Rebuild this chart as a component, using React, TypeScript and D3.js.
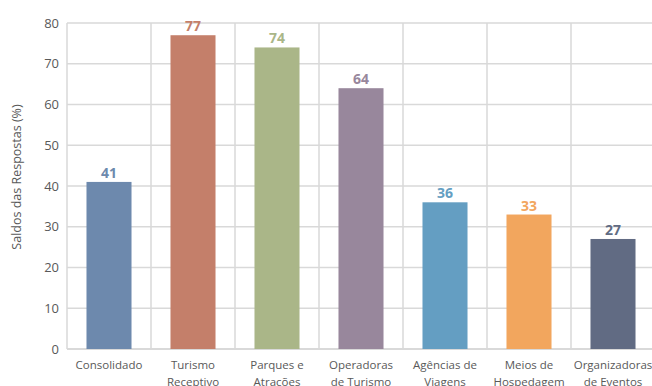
import React from "react";
import * as d3 from "d3";

const categories: string[][] = [
  ["Consolidado"],
  ["Turismo", "Receptivo"],
  ["Parques e", "Atrações"],
  ["Operadoras", "de Turismo"],
  ["Agências de", "Viagens"],
  ["Meios de", "Hospedagem"],
  ["Organizadoras", "de Eventos"],
];
const values: number[] = [41, 77, 74, 64, 36, 33, 27];
const colors: string[] = ["#6d89ad", "#c47f6a", "#aab688", "#98879c", "#649ec2", "#f2a65e", "#616b83"];
const yTicks: number[] = [0, 10, 20, 30, 40, 50, 60, 70, 80];
const yTitle = "Saldos das Respostas (%)";

const W = 652;
const H = 386;
const left = 67;
const right = 655;
const top = 23;
const bottom = 349;
const font = "'Open Sans', 'Noto Sans', sans-serif";
const textColor = "#595959";

export default function App() {
  const keys = categories.map((c) => c.join(" "));
  const x = d3.scaleBand<string>().domain(keys).range([left, right]).paddingInner(0).paddingOuter(0);
  const y = d3.scaleLinear().domain([0, 80]).range([bottom, top]);
  const barW = x.bandwidth() * 0.536;
  const boundaries = keys.map((k) => (x(k) as number) + x.bandwidth());

  return (
    <svg width={W} height={H} style={{ position: "absolute", left: 0, top: 0, background: "#fff" }}>
      {yTicks.map((t) => (
        <line key={"h" + t} x1={left} x2={right} y1={y(t)} y2={y(t)} stroke="#d9d9d9" strokeWidth={1.5} />
      ))}
      <line x1={left} x2={left} y1={top} y2={bottom} stroke="#d9d9d9" strokeWidth={1.5} />
      {boundaries.map((b, i) => (
        <line key={"v" + i} x1={b} x2={b} y1={top} y2={bottom} stroke="#d9d9d9" strokeWidth={1.5} />
      ))}
      <line x1={left} x2={right} y1={bottom} y2={bottom} stroke="#d9d9d9" strokeWidth={2} />
      {yTicks.map((t) => (
        <text key={"t" + t} x={59} y={y(t)} dy="0.35em" textAnchor="end" fontFamily={font} fontSize={13} fill={textColor}>
          {t}
        </text>
      ))}
      <text
        transform={`translate(21,177) rotate(-90)`}
        textAnchor="middle"
        fontFamily={font}
        fontSize={12.5}
        fill={textColor}
      >
        {yTitle}
      </text>
      {keys.map((k, i) => {
        const cx = (x(k) as number) + x.bandwidth() / 2;
        return (
          <g key={k}>
            <rect x={cx - barW / 2} y={y(values[i])} width={barW} height={bottom - y(values[i])} fill={colors[i]} />
            <text x={cx} y={y(values[i]) - 4} textAnchor="middle" fontFamily={font} fontWeight="bold" fontSize={14} fill={colors[i]}>
              {values[i]}
            </text>
            {categories[i].map((line, j) => (
              <text key={j} x={cx} y={369 + j * 17} textAnchor="middle" fontFamily={font} fontSize={11.5} fill={textColor}>
                {line}
              </text>
            ))}
          </g>
        );
      })}
    </svg>
  );
}
